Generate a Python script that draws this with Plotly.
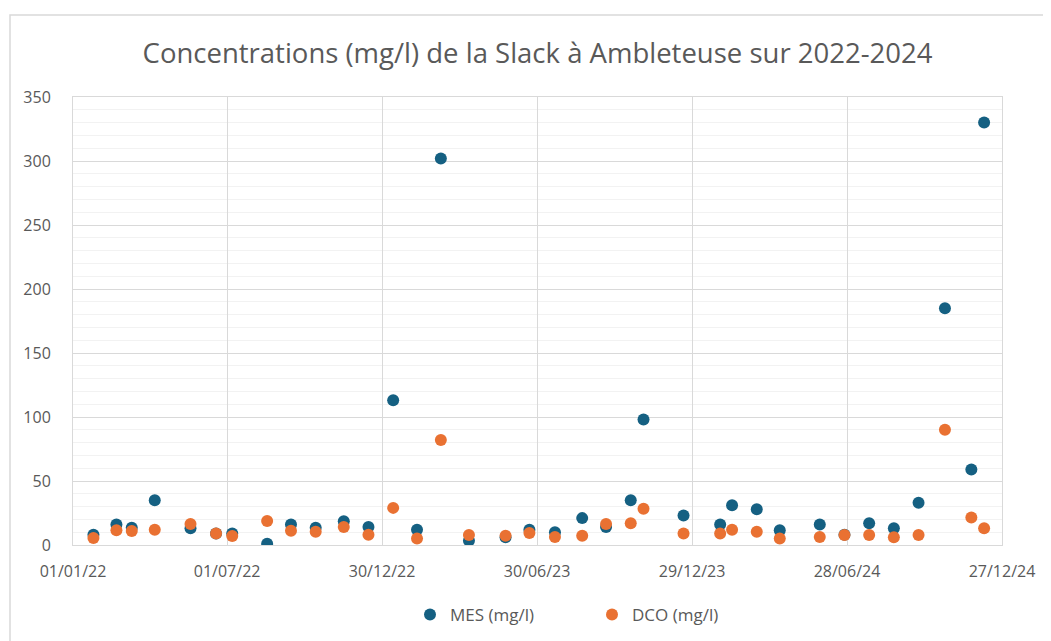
import plotly.graph_objects as go

dates = [
    "2022-01-25", "2022-02-21", "2022-03-11", "2022-04-07", "2022-05-19", "2022-06-18",
    "2022-07-07", "2022-08-17", "2022-09-14", "2022-10-13", "2022-11-15", "2022-12-14",
    "2023-01-12", "2023-02-09", "2023-03-09", "2023-04-11", "2023-05-24", "2023-06-21",
    "2023-07-21", "2023-08-22", "2023-09-19", "2023-10-18", "2023-11-02", "2023-12-19",
    "2024-01-31", "2024-02-14", "2024-03-14", "2024-04-10", "2024-05-27", "2024-06-25",
    "2024-07-24", "2024-08-22", "2024-09-20", "2024-10-21", "2024-11-21", "2024-12-06",
]
mes = [8, 16, 13.5, 35, 13, 9, 9, 1, 16, 13.5, 18.5, 14,
       113, 12, 302, 3.4, 6, 12, 10, 21, 14, 35, 98, 23,
       16, 31, 28, 11.5, 16, 8, 17, 13, 33, 185, 59, 330]
dco = [5.5, 11.5, 11, 12, 16.4, 8.9, 7, 18.7, 11.2, 10.4, 14, 8,
       29, 5, 82, 7.8, 7.3, 9.4, 6.2, 7.3, 16.4, 17, 28.4, 8.9,
       8.9, 12, 10.4, 5, 6.2, 7.8, 7.8, 6, 7.8, 90, 21.4, 13]

tick_vals = ["2022-01-01", "2022-07-01", "2022-12-30", "2023-06-30",
             "2023-12-29", "2024-06-28", "2024-12-27"]
tick_text = ["01/01/22", "01/07/22", "30/12/22", "30/06/23",
             "29/12/23", "28/06/24", "27/12/24"]

title = "Concentrations (mg/l) de la Slack à Ambleteuse sur 2022-2024"
font_family = "Open Sans, Noto Sans, sans-serif"
txt = "#595959"

fig = go.Figure()
fig.add_trace(go.Scatter(x=dates, y=mes, mode="markers", name="MES (mg/l)",
                         marker=dict(color="#156082", size=12, line=dict(width=0))))
fig.add_trace(go.Scatter(x=dates, y=dco, mode="markers", name="DCO (mg/l)",
                         marker=dict(color="#E97132", size=12, line=dict(width=0))))

# page has an 8px body margin; work in page pixels and offset
OFF = 8
W, H = 1051 - OFF, 641 - OFF
# plot area in page pixels: x 73..1002, y 97..545
ml, mt = 73 - OFF, 97 - OFF
mr = W - (1002 - OFF)
mb = H - (545 - OFF)
pw, ph = W - ml - mr, H - mt - mb

def px_x(p):
    return (p - OFF - ml) / pw

def px_y(p):
    return (H - mb - (p - OFF)) / ph

fig.update_layout(
    width=W, height=H,
    margin=dict(l=ml, r=mr, t=mt, b=mb, autoexpand=False),
    paper_bgcolor="white", plot_bgcolor="white",
    font=dict(family=font_family, color=txt),
    title=dict(text=title, x=0.5, xanchor="center", xref="paper",
               y=1 - (53 - OFF) / H, yanchor="middle",
               font=dict(size=27.5, color=txt, family=font_family)),
    showlegend=True,
    legend=dict(orientation="h", xref="container", yref="container",
                x=(410 - OFF) / W, xanchor="left",
                y=1 - (615 - OFF) / H, yanchor="middle",
                font=dict(size=17, color=txt), itemsizing="constant",
                traceorder="normal", itemwidth=30, entrywidth=137),
    xaxis=dict(type="date", range=["2022-01-01", "2024-12-27"],
               tickvals=tick_vals, ticktext=tick_text,
               tickfont=dict(size=16, color=txt),
               showgrid=True, gridcolor="#d9d9d9", gridwidth=1,
               showline=True, linecolor="#d9d9d9", linewidth=1, mirror=True,
               ticks="", zeroline=False, ticklabelstandoff=12, automargin=False),
    yaxis=dict(range=[0, 350], dtick=50, tick0=0,
               tickfont=dict(size=16, color=txt),
               showgrid=True, gridcolor="#d9d9d9", gridwidth=1,
               minor=dict(dtick=10, showgrid=True, gridcolor="#f2f2f2", gridwidth=1),
               showline=True, linecolor="#d9d9d9", linewidth=1, mirror=True,
               ticks="", zeroline=False, ticklabelstandoff=18, automargin=False),
    shapes=[dict(type="rect", xref="paper", yref="paper",
                 x0=px_x(10), x1=px_x(1070), y0=px_y(660), y1=px_y(15),
                 line=dict(color="#d9d9d9", width=1.5), fillcolor="rgba(0,0,0,0)",
                 layer="below")],
)

fig.write_html("out.html")
